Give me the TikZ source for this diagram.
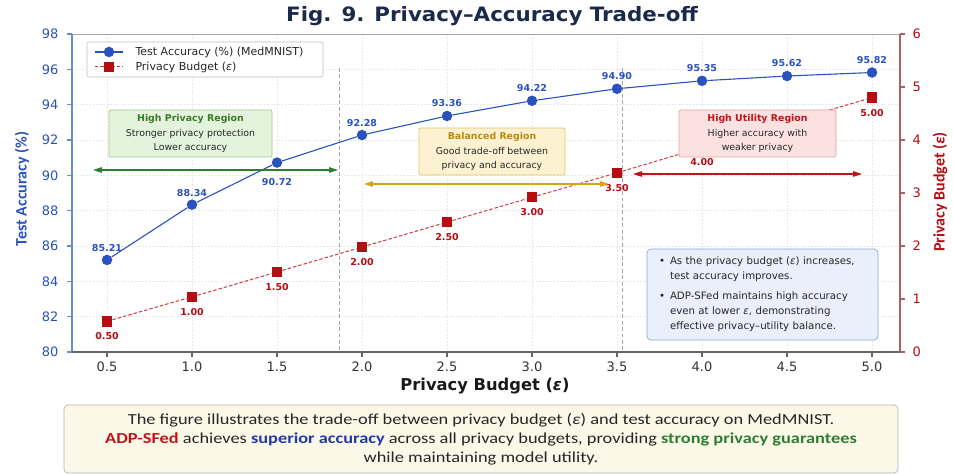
\documentclass[tikz,border=0pt]{standalone}
\usepackage{fontspec}
\setmainfont{DejaVu Sans}
\newfontfamily\capfont[FakeStretch=1.2]{Carlito}
\newfontfamily\lblfont{Carlito}
\newfontfamily\ttlfont[FakeStretch=1.08]{DejaVu Sans}
\usepackage{xcolor}
\usepackage{tikz}
\usetikzlibrary{calc,arrows.meta}
\definecolor{navy}{HTML}{1B2A49}
\definecolor{accblue}{HTML}{2A52BE}
\definecolor{supblue}{HTML}{2337B0}
\definecolor{spineblue}{HTML}{6A8ACF}
\definecolor{budred}{HTML}{B50D12}
\definecolor{linered}{HTML}{D13B3B}
\definecolor{spinered}{HTML}{A86060}
\definecolor{gridc}{HTML}{E8E8E8}
\definecolor{hpfill}{HTML}{E4F4DC}
\definecolor{hpdraw}{HTML}{9CCB8A}
\definecolor{hptext}{HTML}{3B7A2A}
\definecolor{bafill}{HTML}{FCF2D2}
\definecolor{badraw}{HTML}{E2C46A}
\definecolor{batext}{HTML}{B88B0E}
\definecolor{baarrow}{HTML}{D4A514}
\definecolor{hufill}{HTML}{FCE1E1}
\definecolor{hudraw}{HTML}{E5A3A3}
\definecolor{hutext}{HTML}{C0141A}
\definecolor{notefill}{HTML}{E9EFFB}
\definecolor{notedraw}{HTML}{8EA6D6}
\definecolor{capfill}{HTML}{FBF8E8}
\definecolor{capdraw}{HTML}{B5B5B5}
\definecolor{okgreen}{HTML}{2E7D32}
\tikzset{
  ttl/.style={text=navy, font=\ttlfont\fontsize{19.8bp}{22bp}\selectfont\bfseries},
  gridline/.style={draw=gridc, line width=0.5pt, dash pattern=on 2pt off 1.5pt},
  sep/.style={draw=black!35, line width=0.8pt, dash pattern=on 4pt off 2.5pt},
  spinetop/.style={draw=black!35, line width=0.8pt},
  spineleft/.style={draw=spineblue, line width=1.1pt},
  spineright/.style={draw=spinered, line width=1.1pt},
  spinebot/.style={draw=black!60, line width=1.1pt},
  acc/.style={draw=accblue, line width=1.1pt},
  bud/.style={draw=linered, line width=1.0pt, dash pattern=on 3.5pt off 2pt},
  accdot/.style={circle, fill=accblue, inner sep=0pt, minimum size=10.5bp},
  buddot/.style={rectangle, fill=budred, inner sep=0pt, minimum size=10.5bp},
  acclab/.style={text=accblue, font=\fontsize{9.5bp}{11bp}\selectfont\bfseries},
  budlab/.style={text=budred, font=\fontsize{9.5bp}{11bp}\selectfont\bfseries},
  ticklab/.style={font=\fontsize{13bp}{15bp}\selectfont},
  axlab/.style={font=\fontsize{16.3bp}{18bp}\selectfont\bfseries},
  sidelab/.style={font=\lblfont\fontsize{16bp}{18bp}\selectfont\bfseries},
  region/.style={rectangle, rounded corners=2pt, line width=0.7pt, align=center, inner sep=0pt, minimum height=47bp, text=black!85, font=\fontsize{9.4bp}{14.5bp}\selectfont},
  regarr/.style={{Triangle[length=9bp,width=5.5bp]}-{Triangle[length=9bp,width=5.5bp]}, line width=1.1pt},
  legendbox/.style={rectangle, rounded corners=2pt, draw=black!25, fill=white, line width=0.6pt, minimum width=236bp, minimum height=35bp, inner sep=0pt},
  legtext/.style={text=black!85, font=\fontsize{11bp}{12bp}\selectfont},
  notebox/.style={rectangle, rounded corners=4pt, draw=notedraw, fill=notefill, line width=0.7pt, minimum height=91bp, inner xsep=12bp, inner ysep=0pt, text width=207bp, align=left, text=black!85, font=\fontsize{10.2bp}{15bp}\selectfont},
  capbox/.style={rectangle, rounded corners=4pt, draw=capdraw, fill=capfill, line width=0.7pt, minimum width=834bp, minimum height=68bp, align=center, text=black!85, font=\capfont\fontsize{15.3bp}{19bp}\selectfont},
}

\begin{document}
\begin{tikzpicture}[x=1bp, y=-1bp]
  \useasboundingbox (0,0) rectangle (953,474);
  \def\xz{107}
  \def\dx{170}
  \def\yb{352}
  \node[ttl] (title) at (492,16) {Fig. 9. Privacy–Accuracy Trade-off};

  % grid
  \foreach \v in {82,84,...,96}
    \draw[gridline] (72,{\yb-(\v-80)*17.667}) -- (900,{\yb-(\v-80)*17.667});
  \foreach \e in {0.5,1.0,1.5,2.0,2.5,3.0,3.5,4.0,4.5,5.0}
    \draw[gridline] ({\xz+(\e-0.5)*\dx},34) -- ({\xz+(\e-0.5)*\dx},\yb);

  % spines and ticks
  \draw[spinetop] (72,34) -- (900,34);
  \draw[spineleft] (72,34) -- (72,\yb);
  \draw[spineright] (900,34) -- (900,\yb);
  \draw[spinebot] (72,\yb) -- (900,\yb);
  \foreach \v in {80,82,...,98}{
    \draw[spineleft] (67,{\yb-(\v-80)*17.667}) -- (72,{\yb-(\v-80)*17.667});
    \node[ticklab, text=accblue, anchor=east] at (62,{\yb-(\v-80)*17.667}) {\v};
  }
  \foreach \v in {0,...,6}{
    \draw[spineright] (900,{\yb-\v*53}) -- (905,{\yb-\v*53});
    \node[ticklab, text=budred, anchor=west] at (909,{\yb-\v*53}) {\v};
  }
  \foreach \e in {0.5,1.0,1.5,2.0,2.5,3.0,3.5,4.0,4.5,5.0}{
    \draw[spinebot] ({\xz+(\e-0.5)*\dx},\yb) -- ({\xz+(\e-0.5)*\dx},357);
    \node[ticklab, text=black!80] at ({\xz+(\e-0.5)*\dx},367) {\e};
  }
  \node[sidelab, text=accblue, rotate=90] (ylab) at (22,189) {Test Accuracy (\%)};
  \node[sidelab, text=budred, rotate=90] (yrlab) at (940,192) {Privacy Budget (\textit{ε})};
  \node[axlab, text=black!90] (xlab) at (485,386) {Privacy Budget (\textit{ε})};

  % region separators
  \draw[sep] (339,68) -- (339,\yb);
  \draw[sep] (622,68) -- (622,\yb);

  % privacy budget series
  \begin{scope}[shift={(\xz,\yb)}, x=170bp, y=53bp]
    \foreach \e/\b/\t [count=\i] in {0.5/0.58/0.50, 1.0/1.04/1.00, 1.5/1.51/1.50, 2.0/1.98/2.00, 2.5/2.45/2.50, 3.0/2.92/3.00, 3.5/3.38/3.50, 4.0/3.86/4.00, 4.5/4.33/{}, 5.0/4.80/5.00}{
      \node[buddot] (b\i) at ({\e-0.5},\b) {};
      \node[budlab, yshift=-15bp] (bl\i) at (b\i) {\t};
    }
  \end{scope}
  \foreach \i [remember=\i as \j (initially 1)] in {2,...,10}
    \draw[bud] (b\j) -- (b\i);

  % accuracy series
  \begin{scope}[shift={(\xz,\yb)}, x=170bp, y=17.667bp]
    \foreach \e/\a/\d [count=\i] in {0.5/85.21/12, 1.0/88.34/12, 1.5/90.72/-19, 2.0/92.28/12, 2.5/93.36/13, 3.0/94.22/12.5, 3.5/94.90/12.5, 4.0/95.35/12.5, 4.5/95.62/12.5, 5.0/95.82/12.5}{
      \node[accdot] (a\i) at ({\e-0.5},{\a-80}) {};
      \node[acclab, yshift=\d bp] (al\i) at (a\i) {\a};
    }
  \end{scope}
  \foreach \i [remember=\i as \j (initially 1)] in {2,...,10}
    \draw[acc] (a\j) -- (a\i);

  % regions
  \node[region, fill=hpfill, draw=hpdraw, minimum width=163bp] (hipriv) at (190.5,133.5)
    {{\color{hptext}\bfseries High Privacy Region}\\Stronger privacy protection\\Lower accuracy};
  \node[region, fill=bafill, draw=badraw, minimum width=146bp] (balanced) at (492,151.5)
    {{\color{batext}\bfseries Balanced Region}\\Good trade-off between\\privacy and accuracy};
  \node[region, fill=hufill, draw=hudraw, minimum width=157bp] (hiutil) at (757.5,133.5)
    {{\color{hutext}\bfseries High Utility Region}\\Higher accuracy with\\weaker privacy};
  \coordinate (gL) at (93,170);  \coordinate (gR) at (338,170);
  \coordinate (yL) at (364,184); \coordinate (yR) at (609,184);
  \coordinate (rL) at (633,174); \coordinate (rR) at (862,174);
  \draw[regarr, draw=okgreen] (gL) -- (gR);
  \draw[regarr, draw=baarrow] (yL) -- (yR);
  \draw[regarr, draw=hutext] (rL) -- (rR);

  % notes
  \node[notebox] (notes) at (762.5,294.5)
    {\makebox[11bp][l]{•}As the privacy budget (\textit{ε}) increases,\\
     \hspace*{11bp}test accuracy improves.\\[5bp]
     \makebox[11bp][l]{•}ADP-SFed maintains high accuracy\\
     \hspace*{11bp}even at lower \textit{ε}, demonstrating\\
     \hspace*{11bp}effective privacy–utility balance.};

  % legend
  \node[legendbox] (legend) at (205,59.5) {};
  \coordinate (l1a) at (95,52); \coordinate (l1b) at (123,52);
  \coordinate (l2a) at (95,67); \coordinate (l2b) at (123,67);
  \draw[acc] (l1a) -- (l1b);
  \draw[bud] (l2a) -- (l2b);
  \node[accdot] (l1m) at ($(l1a)!0.5!(l1b)$) {};
  \node[buddot] (l2m) at ($(l2a)!0.5!(l2b)$) {};
  \node[legtext, anchor=west] (l1t) at (132,52) {Test Accuracy (\%) (MedMNIST)};
  \node[legtext, anchor=west] (l2t) at (132,67) {Privacy Budget (\textit{ε})};

  % caption
  \node[capbox] (caption) at (481,439)
    {The figure illustrates the trade-off between privacy budget (\textit{ε}) and test accuracy on MedMNIST.\\
     {\color{hutext}\bfseries ADP-SFed} achieves {\color{supblue}\bfseries superior accuracy} across all privacy budgets, providing {\color{okgreen}\bfseries strong privacy guarantees}\\
     while maintaining model utility.};
\end{tikzpicture}
\end{document}
